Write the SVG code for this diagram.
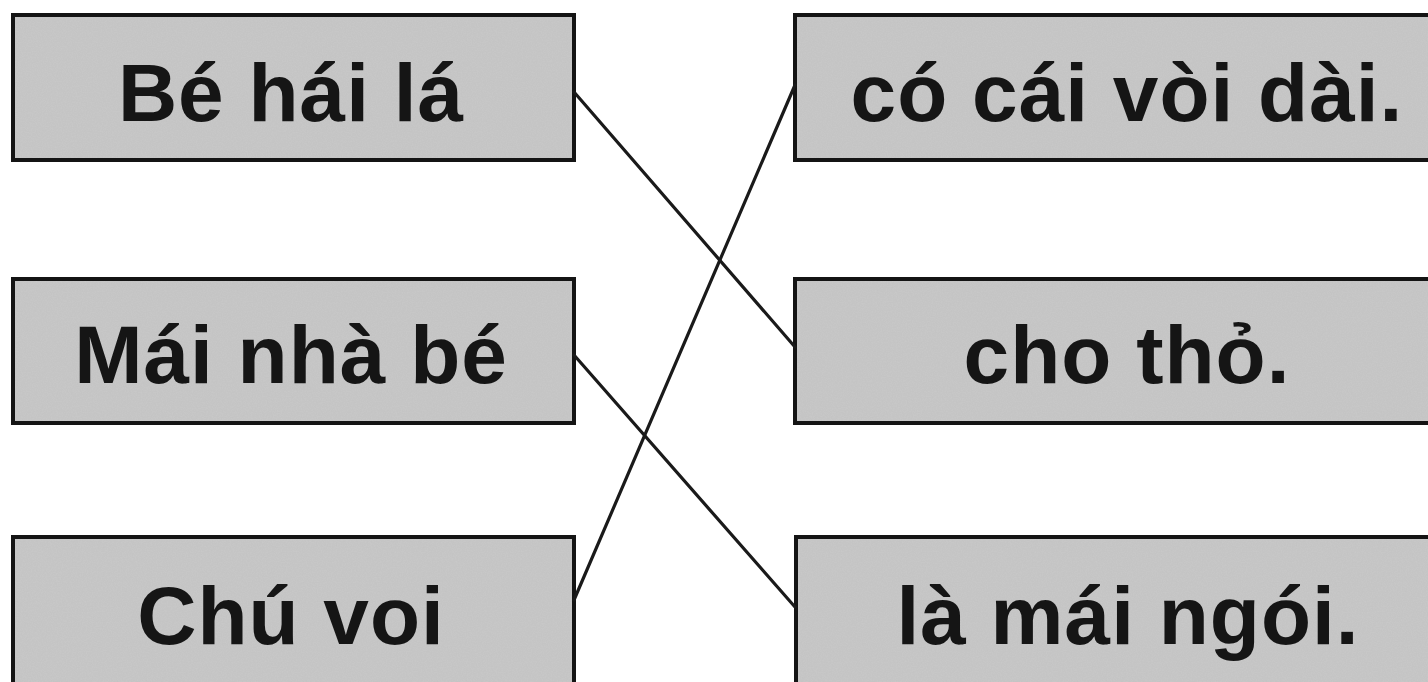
<svg xmlns="http://www.w3.org/2000/svg" width="1428" height="682" viewBox="0 0 1428 682">
  <style>
    .fill { fill: #c8c8c8; stroke: none; }
    .edge { fill: none; stroke: #141414; stroke-width: 4; }
    .lbl { font-family: "Liberation Sans", Arial, sans-serif; font-weight: bold; font-size: 82px; letter-spacing: 1px; fill: #151515; text-anchor: middle; }
    .conn { stroke: #1a1a1a; stroke-width: 3.2; fill: none; stroke-linecap: round; }
  </style>
  <defs>
    <filter id="grain" x="0" y="0" width="100%" height="100%">
      <feTurbulence type="fractalNoise" baseFrequency="0.8" numOctaves="2" seed="3" result="n"/>
      <feColorMatrix in="n" type="matrix" values="0 0 0 0 0.45  0 0 0 0 0.45  0 0 0 0 0.45  0 0 0 0.35 -0.05" result="g"/>
      <feComposite in="g" in2="SourceGraphic" operator="atop"/>
    </filter>
  </defs>
  <rect width="1428" height="682" fill="#ffffff"/>

  <g id="left-1">
    <rect class="fill" x="13" y="15" width="561" height="145" filter="url(#grain)"/>
    <rect class="edge" x="13" y="15" width="561" height="145"/>
    <text class="lbl" x="291" y="121">Bé hái lá</text>
  </g>
  <g id="left-2">
    <rect class="fill" x="13" y="279" width="561" height="144" filter="url(#grain)"/>
    <rect class="edge" x="13" y="279" width="561" height="144"/>
    <text class="lbl" x="291" y="383">Mái nhà bé</text>
  </g>
  <g id="left-3">
    <rect class="fill" x="13" y="537" width="561" height="160" filter="url(#grain)"/>
    <rect class="edge" x="13" y="537" width="561" height="160"/>
    <text class="lbl" x="291" y="644">Chú voi</text>
  </g>

  <g id="right-1">
    <rect class="fill" x="795" y="15" width="680" height="145" filter="url(#grain)"/>
    <rect class="edge" x="795" y="15" width="680" height="145"/>
    <text class="lbl" x="1127" y="121">có cái vòi dài.</text>
  </g>
  <g id="right-2">
    <rect class="fill" x="795" y="279" width="680" height="144" filter="url(#grain)"/>
    <rect class="edge" x="795" y="279" width="680" height="144"/>
    <text class="lbl" x="1127" y="383">cho thỏ.</text>
  </g>
  <g id="right-3">
    <rect class="fill" x="796" y="537" width="680" height="160" filter="url(#grain)"/>
    <rect class="edge" x="796" y="537" width="680" height="160"/>
    <text class="lbl" x="1128" y="644">là mái ngói.</text>
  </g>

  <g id="connectors">
    <line class="conn" x1="574" y1="92" x2="795" y2="347"/>
    <line class="conn" x1="574" y1="355" x2="795" y2="607"/>
    <line class="conn" x1="574" y1="600" x2="795" y2="85"/>
  </g>
</svg>
